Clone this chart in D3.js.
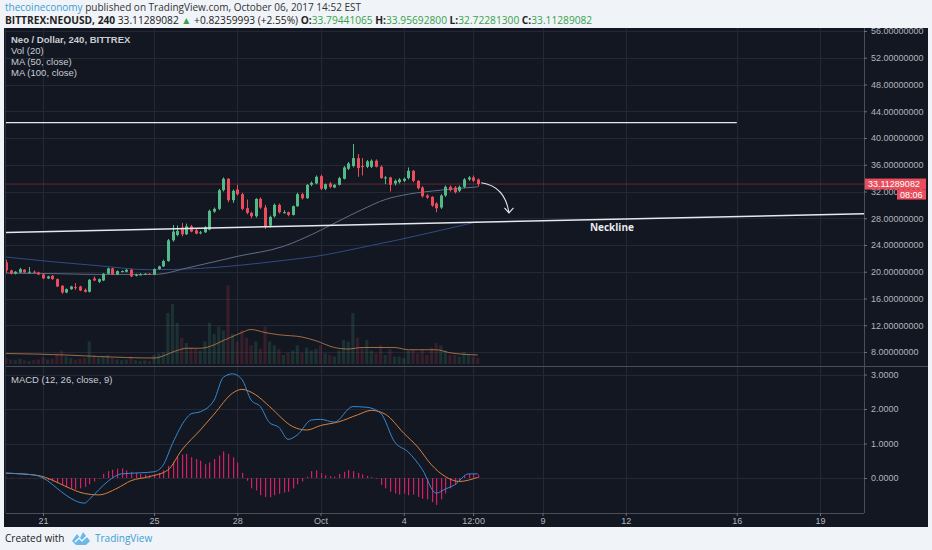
<!DOCTYPE html>
<html>

<head>
  <meta charset="utf-8">
  <title>NEOUSD 240</title>
  <script src="https://cdnjs.cloudflare.com/ajax/libs/d3/7.8.5/d3.min.js"></script>
  <style>
    body { margin: 0; background: #f0f3f7; }
    svg { display: block; }
  </style>
</head>

<body>
<script>
const width = 932;
const height = 550;

// 4h bars, first one Sep 19 16:00 UTC -> [open, high, low, close]
const candleStart = '2017-09-19T16:00:00Z';
const candles = [
	[21.4, 21.8, 19.8, 20.2], [20.2, 20.3, 19.6, 19.7], [19.7, 20.1, 19.6, 20.0], [19.9, 20.6, 19.8, 20.4],
	[20.3, 20.4, 19.8, 19.9], [19.9, 20.7, 19.7, 20.0], [20.0, 20.2, 19.8, 19.9], [19.9, 20.0, 19.5, 19.6],
	[19.6, 19.8, 18.9, 19.0], [19.0, 19.4, 18.9, 19.3], [19.4, 19.5, 18.8, 18.9], [18.9, 19.0, 17.7, 17.8],
	[17.9, 18.0, 16.7, 16.9], [16.9, 17.5, 16.8, 17.4], [17.4, 17.9, 17.3, 17.8], [17.7, 18.3, 17.3, 17.6],
	[17.8, 17.9, 17.1, 17.2], [17.3, 17.5, 16.9, 17.0], [17.0, 18.9, 16.9, 18.8], [19.0, 19.3, 18.6, 18.7],
	[18.5, 19.0, 18.3, 18.9], [18.7, 19.8, 18.6, 19.7], [19.7, 20.6, 19.6, 20.5], [20.5, 20.6, 19.5, 19.6],
	[19.6, 20.2, 19.5, 20.1], [20.0, 20.2, 19.9, 20.1], [20.0, 20.4, 19.9, 20.3], [20.3, 20.4, 19.2, 19.3],
	[19.4, 19.7, 19.3, 19.6], [19.6, 19.8, 19.5, 19.6], [19.6, 19.8, 19.5, 19.7], [19.7, 19.8, 19.5, 19.6],
	[19.6, 20.5, 19.5, 20.4], [20.4, 20.9, 20.3, 20.8], [20.8, 21.8, 20.7, 21.6], [21.6, 24.9, 21.5, 24.7],
	[24.7, 27.0, 24.5, 26.0], [25.5, 26.9, 25.3, 26.1], [26.6, 27.3, 25.3, 25.6], [25.6, 27.2, 25.5, 26.8],
	[26.8, 27.0, 25.9, 26.0], [26.2, 26.4, 25.6, 25.7], [25.8, 26.1, 25.6, 25.9], [25.9, 26.8, 25.8, 26.7],
	[26.3, 29.3, 26.2, 29.1], [29.0, 29.6, 28.8, 29.4], [29.4, 32.4, 29.2, 32.2], [32.2, 34.1, 32.0, 33.9],
	[33.9, 34.0, 30.4, 30.7], [30.7, 32.3, 30.3, 32.1], [32.3, 33.0, 31.4, 31.6], [31.6, 31.8, 29.2, 29.4],
	[29.5, 30.8, 28.6, 28.8], [28.8, 29.0, 28.0, 28.3], [28.3, 31.0, 28.1, 30.9], [30.9, 31.1, 29.4, 29.6],
	[29.6, 30.0, 26.4, 26.8], [26.9, 28.4, 26.6, 28.2], [28.3, 30.2, 28.1, 30.0], [30.0, 30.2, 28.7, 28.9],
	[28.9, 29.2, 28.7, 28.9], [28.9, 29.0, 28.3, 28.5], [28.5, 29.9, 28.4, 29.8], [29.8, 31.8, 29.7, 31.6],
	[31.6, 31.8, 30.8, 31.0], [31.0, 33.1, 30.9, 33.0], [33.0, 33.5, 32.8, 33.3], [33.2, 34.4, 33.1, 34.2],
	[34.3, 34.5, 32.2, 32.4], [32.4, 33.2, 32.2, 33.1], [33.2, 33.4, 32.5, 32.7], [32.6, 33.1, 32.5, 33.0],
	[33.0, 34.2, 32.9, 34.0], [33.9, 35.8, 33.8, 35.6], [35.4, 36.4, 35.2, 36.2], [35.8, 39.1, 35.6, 37.0],
	[37.0, 37.6, 34.2, 35.5], [35.8, 37.0, 34.4, 35.7], [35.7, 36.7, 35.5, 36.5], [35.7, 36.8, 35.5, 36.6],
	[36.6, 36.8, 35.6, 35.7], [35.7, 35.9, 33.9, 34.0], [34.0, 34.3, 33.1, 34.1], [34.1, 34.2, 32.0, 33.0],
	[33.2, 33.8, 32.9, 33.6], [33.4, 34.0, 33.2, 33.8], [33.6, 34.1, 33.4, 33.9], [34.0, 35.6, 33.8, 35.1],
	[35.1, 35.2, 33.4, 33.6], [33.6, 33.7, 32.3, 32.5], [32.6, 32.8, 31.1, 31.3], [31.4, 31.6, 30.9, 31.1],
	[31.2, 31.3, 29.7, 29.9], [30.2, 30.4, 28.9, 29.5], [29.6, 31.6, 29.4, 31.4], [31.4, 32.9, 31.2, 32.7],
	[32.7, 32.9, 32.0, 32.2], [32.6, 32.8, 31.7, 31.9], [32.1, 32.9, 31.9, 32.7], [32.7, 34.0, 32.5, 33.8],
	[33.8, 34.3, 33.6, 34.1], [34.1, 34.4, 33.4, 33.6], [33.79441065, 33.956928, 32.722813, 33.11289082]
];

const volumes = [
	8, 6, 5, 7, 5, 4, 5, 6, 9, 6, 7,
	14, 18, 10, 8, 6, 7, 8, 30, 12, 9,
	10, 12, 8, 6, 5, 6, 10, 5, 4, 5, 4, 12, 14, 16,
	68, 80, 55, 35, 28,
	22, 20, 18, 30, 55, 40, 50, 45,
	105, 40, 30, 45, 35, 25, 30, 20, 50, 30, 25, 20,
	12, 15, 18, 25, 15, 22, 18, 20, 25, 14, 12, 10, 18,
	32, 30, 68, 35, 22, 32, 18, 14, 25, 12, 20,
	10, 10, 8, 18, 20, 14, 20, 12, 22, 28, 25, 18, 12, 12, 10, 16, 12, 10, 8
];

const macdHist = [
	0.01, 0.01, 0.0, 0.01, 0.0, -0.01, -0.01, 0.0,
	-0.03, -0.06, -0.1, -0.15, -0.2, -0.26, -0.3, -0.33, -0.3, -0.26, -0.18, -0.1,
	-0.02,
	0.12, 0.2, 0.24, 0.27, 0.28, 0.22, 0.18, 0.15, 0.12, 0.1, 0.08,
	0.1, 0.15, 0.22, 0.35, 0.47, 0.62, 0.68, 0.7, 0.6, 0.55, 0.5, 0.4, 0.45, 0.55, 0.65, 0.77, 0.7, 0.6, 0.45,
	0.15, -0.08, -0.3, -0.36, -0.5, -0.55, -0.56, -0.5, -0.46, -0.42, -0.4, -0.3, -0.18, -0.1,
	0.04, 0.2, 0.22, 0.14, 0.08, 0.05, 0.04, 0.12, 0.18, 0.23, 0.2, 0.15, 0.1, 0.06, 0.03, -0.02,
	-0.2, -0.3, -0.4, -0.45, -0.48, -0.45, -0.5, -0.48, -0.55, -0.6, -0.62, -0.7, -0.78, -0.62, -0.45, -0.3, -0.2, -0.12,
	0.06, 0.12, 0.12, 0.1
];

// readings: [bar index, value]
const ma50 = [[0, 19.8], [12, 19.7], [20, 19.6], [32, 19.6], [40, 20.7], [50, 22.3], [60, 23.8], [64, 24.9],
	[68, 26.2], [72, 27.6], [77, 29.3], [82, 30.8], [87, 31.6], [94, 32.2], [102, 32.7]];
const ma100 = [[0, 22.2], [10, 21.5], [20, 20.9], [31, 20.3], [42, 20.5], [51, 21.0], [60, 21.7], [67, 22.3],
	[76, 23.5], [85, 24.8], [94, 26.2], [99, 27.0], [102, 27.5]];
const volMa = [[0, 14], [13, 12], [20, 10], [32, 8], [37, 18], [39, 21], [42, 21], [48, 34], [51, 42], [53, 46],
	[56, 42], [59, 39], [64, 36], [67, 31], [71, 22], [74, 20], [77, 22], [84, 22], [87, 19], [93, 19], [96, 15], [102, 12]];
const macdLine = [[0, 0.14], [6, 0.09], [8, 0.0], [12, -0.40], [14, -0.59], [17, -0.73], [18, -0.62], [20, -0.35],
	[22, -0.10], [25, 0.12], [29, 0.15], [32, 0.18], [34, 0.38], [36, 1.0], [39, 1.73], [40, 1.86], [42, 1.92],
	[45, 2.26], [47, 2.92], [49, 3.02], [51, 2.86], [53, 2.26], [55, 2.07], [57, 1.6], [59, 1.47], [61, 1.12],
	[63, 1.25], [66, 1.68], [68, 1.70], [71, 1.62], [75, 2.07], [78, 2.05], [81, 1.88], [84, 1.05], [87, 0.75],
	[90, 0.25], [93, -0.44], [95, -0.32], [97, -0.2], [100, 0.12], [102, 0.12]];
const signalLine = [[0, 0.14], [7, 0.07], [10, -0.06], [13, -0.25], [17, -0.45], [20, -0.49], [24, -0.30],
	[27, -0.08], [31, 0.04], [35, 0.23], [38, 0.81], [42, 1.39], [45, 1.85], [49, 2.46], [51, 2.57], [54, 2.41],
	[57, 2.07], [62, 1.49], [65, 1.39], [68, 1.52], [72, 1.63], [76, 1.83], [79, 1.96], [82, 1.85], [86, 1.3],
	[89, 0.9], [92, 0.38], [95, 0.04], [98, -0.1], [102, 0.02]];

const priceTicks = [8, 12, 16, 20, 24, 28, 32, 36, 40, 44, 48, 52, 56];
const macdTicks = [0, 1, 2, 3];
const dateTicks = ['2017-09-21T00:00:00Z', '2017-09-25T00:00:00Z', '2017-09-28T00:00:00Z', '2017-10-01T00:00:00Z',
	'2017-10-04T00:00:00Z', '2017-10-06T12:00:00Z', '2017-10-09T00:00:00Z', '2017-10-12T00:00:00Z',
	'2017-10-16T00:00:00Z', '2017-10-19T00:00:00Z'];
const dateLabels = ['21', '25', '28', 'Oct', '4', '12:00', '9', '12', '16', '19'];

// drawings
const neckline = [['2017-09-19T12:00:00Z', 25.85], ['2017-10-21T00:00:00Z', 28.7]];
const resistance = [['2017-09-19T00:00:00Z', 42.3], ['2017-10-16T00:00:00Z', 42.3]];
const arrowPts = [['2017-10-06T19:00:00Z', 33.3], ['2017-10-07T15:30:00Z', 32.8], ['2017-10-07T19:00:00Z', 28.8]];
const necklineLabel = ['2017-10-11T12:00:00Z', 26.1];
const lastPrice = 33.11289082;

const pane = {left: 6, right: 864, top: 28, split: 366, bottom: 513};
const green = '#53b987';
const red = '#eb4d5c';
const axisFont = '9px "Liberation Sans", Arial, sans-serif';
const uiFont = '"Open Sans", "Noto Sans", sans-serif';
const legendFont = '9.5px "Liberation Sans", Arial, sans-serif';

const barTime = (i) => new Date(new Date(candleStart).getTime() + i * 4 * 3600 * 1000);

const xScale = d3.scaleUtc()
	.domain([new Date('2017-09-21T00:00:00Z'), new Date('2017-10-19T00:00:00Z')])
	.range([43, 820]);
const yPrice = d3.scaleLinear().domain([8, 56]).range([352, 31]);
const yVol = d3.scaleLinear().domain([0, 100]).range([364, 289]);
const yMacd = d3.scaleLinear().domain([0, 3]).range([478, 374.5]);

const svg = d3.select('body').append('svg')
	.attr('width', width)
	.attr('height', height);

svg.append('rect')
	.attr('width', width).attr('height', height)
	.attr('fill', '#f0f3f7');

// header
const h1 = svg.append('text').attr('x', 5).attr('y', 11)
	.style('font', '10px ' + uiFont).attr('fill', '#333');
h1.append('tspan').attr('fill', '#3a9fd6').text('thecoineconomy');
h1.append('tspan').text(' published on TradingView.com, October 06, 2017 14:52 EST');

const h2 = svg.append('text').attr('x', 5).attr('y', 23.5)
	.style('font', '10.2px ' + uiFont).attr('fill', '#222');
h2.append('tspan').attr('font-weight', 700).text('BITTREX:NEOUSD, 240 ');
h2.append('tspan').text('33.11289082 ');
h2.append('tspan').attr('fill', '#37a24b').text('▲');
h2.append('tspan').text(' +0.82359993 (+2.55%) ');
[['O:', '33.79441065'], ['H:', '33.95692800'], ['L:', '32.72281300'], ['C:', '33.11289082']].forEach((p) => {
	h2.append('tspan').attr('font-weight', 700).text(p[0]);
	h2.append('tspan').attr('fill', '#37a24b').text(p[1] + ' ');
});

// chart box
svg.append('rect')
	.attr('x', 4).attr('y', 28)
	.attr('width', 924).attr('height', 499)
	.attr('fill', '#131722');

const defs = svg.append('defs');
defs.append('clipPath').attr('id', 'clipPrice').append('rect')
	.attr('x', pane.left).attr('y', pane.top)
	.attr('width', pane.right - pane.left).attr('height', pane.split - pane.top);
defs.append('clipPath').attr('id', 'clipMacd').append('rect')
	.attr('x', pane.left).attr('y', pane.split)
	.attr('width', pane.right - pane.left).attr('height', pane.bottom - pane.split);

// grid
const grid = svg.append('g').attr('stroke', '#242835').attr('stroke-width', 1);
grid.selectAll('.gp').data(priceTicks).enter().append('line')
	.attr('x1', pane.left).attr('x2', pane.right)
	.attr('y1', (d) => Math.round(yPrice(d)) + 0.5)
	.attr('y2', (d) => Math.round(yPrice(d)) + 0.5);
grid.selectAll('.gm').data(macdTicks).enter().append('line')
	.attr('x1', pane.left).attr('x2', pane.right)
	.attr('y1', (d) => Math.round(yMacd(d)) + 0.5)
	.attr('y2', (d) => Math.round(yMacd(d)) + 0.5);
grid.selectAll('.gx').data(dateTicks).enter().append('line')
	.attr('x1', (d) => Math.round(xScale(new Date(d))) + 0.5)
	.attr('x2', (d) => Math.round(xScale(new Date(d))) + 0.5)
	.attr('y1', pane.top).attr('y2', pane.bottom);

// price pane
const pricePane = svg.append('g').attr('clip-path', 'url(#clipPrice)');

pricePane.append('g')
	.selectAll('rect')
	.data(volumes).enter()
	.append('rect')
	.attr('x', (d, i) => xScale(barTime(i)) - 1.6)
	.attr('width', 3.2)
	.attr('y', (d) => yVol(d))
	.attr('height', (d) => yVol(0) - yVol(d))
	.attr('fill', (d, i) => candles[i][3] >= candles[i][0] ? green : red)
	.attr('opacity', 0.16);

pricePane.append('path')
	.datum(volMa)
	.attr('fill', 'none')
	.attr('stroke', '#c0824a')
	.attr('stroke-opacity', 0.8)
	.attr('stroke-width', 1)
	.attr('d', d3.line()
		.curve(d3.curveMonotoneX)
		.x((d) => xScale(barTime(d[0])))
		.y((d) => yVol(d[1])));

// last price line
pricePane.append('line')
	.attr('x1', pane.left).attr('x2', pane.right)
	.attr('y1', yPrice(lastPrice)).attr('y2', yPrice(lastPrice))
	.attr('stroke', red).attr('stroke-opacity', 0.35).attr('stroke-width', 1);

const maLine = d3.line()
	.curve(d3.curveMonotoneX)
	.x((d) => xScale(barTime(d[0])))
	.y((d) => yPrice(d[1]));

pricePane.append('path').datum(ma100)
	.attr('fill', 'none').attr('stroke', '#2f4b86').attr('stroke-width', 1)
	.attr('d', maLine);
pricePane.append('path').datum(ma50)
	.attr('fill', 'none').attr('stroke', '#5f6e88').attr('stroke-width', 1)
	.attr('d', maLine);

const candleG = pricePane.append('g')
	.selectAll('g')
	.data(candles).enter()
	.append('g')
	.attr('fill', (d) => d[3] >= d[0] ? green : red)
	.attr('stroke', (d) => d[3] >= d[0] ? green : red);

candleG.append('line')
	.attr('x1', (d, i) => Math.round(xScale(barTime(i))) + 0.5)
	.attr('x2', (d, i) => Math.round(xScale(barTime(i))) + 0.5)
	.attr('y1', (d) => yPrice(d[1]))
	.attr('y2', (d) => yPrice(d[2]))
	.attr('stroke-width', 1);

candleG.append('rect')
	.attr('stroke', 'none')
	.attr('x', (d, i) => Math.round(xScale(barTime(i))) - 1)
	.attr('width', 3)
	.attr('y', (d) => yPrice(Math.max(d[0], d[3])))
	.attr('height', (d) => Math.max(1, Math.abs(yPrice(d[0]) - yPrice(d[3]))));

// drawings
const drawLine = d3.line()
	.x((d) => xScale(new Date(d[0])))
	.y((d) => yPrice(d[1]));

pricePane.append('path').datum(resistance)
	.attr('fill', 'none').attr('stroke', '#e6e8ee').attr('stroke-width', 1.2)
	.attr('d', drawLine);
pricePane.append('path').datum(neckline)
	.attr('fill', 'none').attr('stroke', '#e6e8ee').attr('stroke-width', 1.5)
	.attr('d', drawLine);

const ap = arrowPts.map((d) => [xScale(new Date(d[0])), yPrice(d[1])]);
const arrowPath = d3.path();
arrowPath.moveTo(ap[0][0], ap[0][1]);
arrowPath.quadraticCurveTo(ap[1][0], ap[1][1], ap[2][0], ap[2][1]);
pricePane.append('path')
	.attr('d', arrowPath.toString())
	.attr('fill', 'none').attr('stroke', '#e6e8ee').attr('stroke-width', 1.1);
pricePane.append('path')
	.attr('d', `M${ap[2][0] - 4.5},${ap[2][1] - 5}L${ap[2][0]},${ap[2][1]}L${ap[2][0] + 4.5},${ap[2][1] - 5}`)
	.attr('fill', 'none').attr('stroke', '#e6e8ee').attr('stroke-width', 1.1);

pricePane.append('text')
	.attr('x', xScale(new Date(necklineLabel[0])))
	.attr('y', yPrice(necklineLabel[1]))
	.attr('text-anchor', 'middle')
	.attr('fill', '#e8eaef')
	.style('font', '700 10px ' + uiFont)
	.text('Neckline');

// macd pane
const macdPane = svg.append('g').attr('clip-path', 'url(#clipMacd)');

macdPane.append('g')
	.selectAll('rect')
	.data(macdHist).enter()
	.append('rect')
	.attr('x', (d, i) => Math.round(xScale(barTime(i))))
	.attr('width', 1.2)
	.attr('y', (d) => Math.min(yMacd(d), yMacd(0)))
	.attr('height', (d) => Math.abs(yMacd(d) - yMacd(0)))
	.attr('fill', '#d21f66');

const macdPath = d3.line()
	.curve(d3.curveMonotoneX)
	.x((d) => xScale(barTime(d[0])))
	.y((d) => yMacd(d[1]));

macdPane.append('path').datum(signalLine)
	.attr('fill', 'none').attr('stroke', '#d8823d').attr('stroke-width', 1)
	.attr('d', macdPath);
macdPane.append('path').datum(macdLine)
	.attr('fill', 'none').attr('stroke', '#3489d2').attr('stroke-width', 1)
	.attr('d', macdPath);

// frame
const frame = svg.append('g').attr('stroke', '#4a4e5a').attr('stroke-width', 1);
frame.append('line').attr('x1', pane.right + 0.5).attr('x2', pane.right + 0.5).attr('y1', pane.top).attr('y2', pane.bottom);
frame.append('line').attr('x1', pane.left).attr('x2', 928).attr('y1', pane.split + 0.5).attr('y2', pane.split + 0.5);
frame.append('line').attr('x1', pane.left).attr('x2', pane.right).attr('y1', pane.bottom + 0.5).attr('y2', pane.bottom + 0.5);
frame.append('line').attr('x1', pane.left - 0.5).attr('x2', pane.left - 0.5).attr('y1', pane.top).attr('y2', pane.bottom)
	.attr('stroke', '#2c303c');

// axes
const styleAxis = (g) => {
	g.select('.domain').remove();
	g.selectAll('line').attr('stroke', '#6b6f7a');
	g.selectAll('text').attr('fill', '#b2b5be').style('font', axisFont);
};

svg.append('g')
	.attr('transform', `translate(${pane.right},0)`)
	.call(d3.axisRight(yPrice).tickValues(priceTicks).tickFormat(d3.format('.8f')).tickSize(3).tickPadding(4))
	.call(styleAxis);

svg.append('g')
	.attr('transform', `translate(${pane.right},0)`)
	.call(d3.axisRight(yMacd).tickValues(macdTicks).tickFormat(d3.format('.4f')).tickSize(3).tickPadding(4))
	.call(styleAxis);

svg.append('g')
	.attr('transform', `translate(0,${pane.bottom})`)
	.call(d3.axisBottom(xScale)
		.tickValues(dateTicks.map((d) => new Date(d)))
		.tickFormat((d, i) => dateLabels[i])
		.tickSize(3).tickPadding(2))
	.call(styleAxis);

// last price tags (they sit over the 32 label, as on the original)
const yl = yPrice(lastPrice);
svg.append('rect').attr('x', 865).attr('y', yl - 5.5).attr('width', 61).attr('height', 11).attr('fill', red);
svg.append('text').attr('x', 868).attr('y', yl + 3.2).attr('fill', '#fff').style('font', axisFont).text('33.11289082');
svg.append('rect').attr('x', 897).attr('y', yl + 5.5).attr('width', 29).attr('height', 10).attr('fill', red);
svg.append('text').attr('x', 900).attr('y', yl + 13.7).attr('fill', '#fff').style('font', axisFont).text('08:06');

// legends
const legend = svg.append('g').style('font', legendFont).attr('fill', '#c9ccd4');
legend.append('text').attr('x', 11).attr('y', 43).attr('font-weight', 700).text('Neo / Dollar, 240, BITTREX');
legend.append('text').attr('x', 11).attr('y', 54).text('Vol (20)');
legend.append('text').attr('x', 11).attr('y', 65).text('MA (50, close)');
legend.append('text').attr('x', 11).attr('y', 76).text('MA (100, close)');
svg.append('text').attr('x', 11).attr('y', 383)
	.style('font', legendFont).attr('fill', '#c9ccd4')
	.text('MACD (12, 26, close, 9)');

// footer
svg.append('text').attr('x', 5).attr('y', 542)
	.style('font', '10px ' + uiFont).attr('fill', '#222')
	.text('Created with');
svg.append('path')
	.attr('transform', 'translate(72,532)')
	.attr('d', 'M0,9 L5,2 L8,6 L11,0 L18,9 L14,13 L4,13 Z')
	.attr('fill', '#6cb8e6');
svg.append('path')
	.attr('transform', 'translate(72,532)')
	.attr('d', 'M3,10 L7,6 L10,9 L15,4')
	.attr('fill', 'none').attr('stroke', '#fff').attr('stroke-width', 1.2);
svg.append('text').attr('x', 95).attr('y', 542)
	.style('font', '10px ' + uiFont).attr('fill', '#3a9fd6')
	.text('TradingView');
</script>
</body>

</html>
